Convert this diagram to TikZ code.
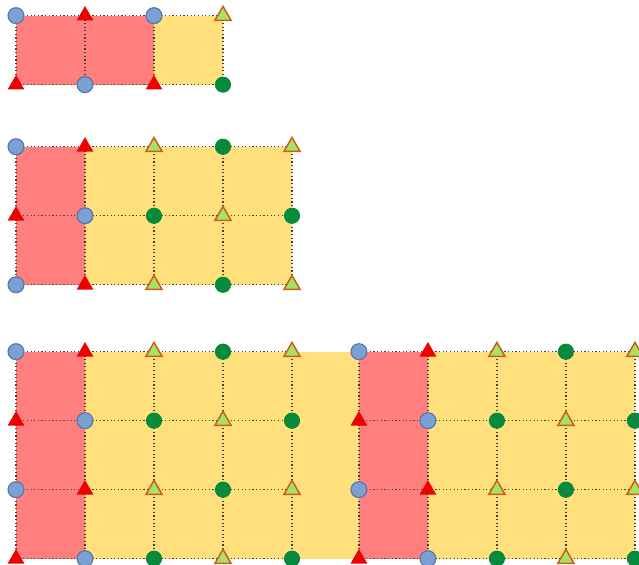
\documentclass[tikz,border=0pt]{standalone}
\usepackage{tikz}
\usetikzlibrary{shapes.geometric,backgrounds}
\definecolor{rougecase}{RGB}{255,126,126}
\definecolor{jaunecase}{RGB}{255,224,125}
\definecolor{bleurond}{RGB}{122,160,212}
\definecolor{bleubord}{RGB}{88,120,170}
\definecolor{rougetri}{RGB}{236,0,0}
\definecolor{vertrond}{RGB}{8,138,60}
\definecolor{verttri}{RGB}{166,226,104}
\definecolor{orangebord}{RGB}{204,92,24}
\definecolor{grisligne}{RGB}{70,62,40}

\def\lignepaire{bleu,rtri,vtri,vert,vtri}
\def\ligneimpaire{rtri,bleu,vert,vtri,vert}

\begin{document}
\begin{tikzpicture}[
  bleu/.style={circle,fill=bleurond,draw=bleubord,line width=0.5pt,minimum size=2.3mm,inner sep=0pt},
  vert/.style={circle,fill=vertrond,draw=vertrond,minimum size=2.2mm,inner sep=0pt},
  rtri/.style={regular polygon,regular polygon sides=3,fill=rougetri,minimum size=2.8mm,inner sep=0pt},
  vtri/.style={regular polygon,regular polygon sides=3,fill=verttri,draw=orangebord,line width=0.6pt,minimum size=2.7mm,inner sep=0pt},
  grille/.style={draw=grisligne,densely dotted,line width=0.5pt}]
\useasboundingbox (-0.232,-0.101) rectangle (9.029,8.087);
\foreach \s [count=\c from 0] in {bleu,rtri,bleu,vtri} \node[\s] (a-0-\c) at (\c,7.86) {};
\foreach \s [count=\c from 0] in {rtri,bleu,rtri,vert} \node[\s] (a-1-\c) at (\c,6.86) {};
\foreach \g/\gx/\gy/\n in {b/0/5.96/2, c/0/2.99/3, d/4.97/2.99/3}
  \foreach \r in {0,...,\n} {
    \ifodd\r\relax \let\ligne\ligneimpaire \else \let\ligne\lignepaire \fi
    \foreach \s [count=\c from 0] in \ligne
      \node[\s] (\g-\r-\c) at ({\gx+\c},{\gy-\r}) {};
  }
\begin{scope}[on background layer]
\fill[rougecase] (a-0-0.center) rectangle (a-1-2.center);
\fill[jaunecase] (a-0-2.center) rectangle (a-1-3.center);
\fill[rougecase] (b-0-0.center) rectangle (b-2-1.center);
\fill[jaunecase] (b-0-1.center) rectangle (b-2-4.center);
\fill[rougecase] (c-0-0.center) rectangle (c-3-1.center);
\fill[jaunecase] (c-0-1.center) rectangle (d-3-0.center);
\fill[rougecase] (d-0-0.center) rectangle (d-3-1.center);
\fill[jaunecase] (d-0-1.center) rectangle (d-3-4.center);
\foreach \g/\n/\m in {a/1/3, b/2/4, c/3/4, d/3/4} {
  \foreach \r in {0,...,\n}
    \draw[grille] (\g-\r-0.center) \foreach \c in {1,...,\m} { -- (\g-\r-\c.center) };
  \foreach \c in {0,...,\m}
    \draw[grille] (\g-0-\c.center) \foreach \r in {1,...,\n} { -- (\g-\r-\c.center) };
}
\end{scope}
\end{tikzpicture}
\end{document}
